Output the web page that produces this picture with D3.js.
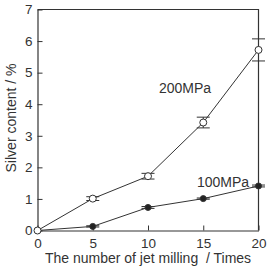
<!DOCTYPE html>
<html>
<head>
<meta charset="utf-8">
<script src="https://cdn.jsdelivr.net/npm/d3@7"></script>
<style>
  body { margin: 0; background: #fff; }
  svg { display: block; }
  text { font-family: "Liberation Sans", Arial, sans-serif; fill: #333; }
</style>
</head>
<body>
<script>
  // jet milling passes and measured silver content (%)
  const milling = [0, 5, 10, 15, 20];
  const silver200 = [0, 1.01, 1.72, 3.42, 5.72];
  const err200 = [0, 0.06, 0.09, 0.17, 0.35];
  const silver100 = [0, 0.13, 0.73, 1.01, 1.41];
  const err100 = [0, 0.02, 0.03, 0.02, 0.03];
  const xTicks = [0, 5, 10, 15, 20];
  const yTicks = [0, 1, 2, 3, 4, 5, 6, 7];

  let svg = d3.select("body").append("svg")
    .attr("width", 267)
    .attr("height", 267);

  let x = d3.scaleLinear().domain([0, 20]).range([37.5, 258.5]);
  let y = d3.scaleLinear().domain([0, 7]).range([230.5, 9.5]);

  // frame (top and right sides)
  svg.append("path")
    .attr("d", `M${x(0)},${y(7)}H${x(20)}V${y(0)}`)
    .attr("fill", "none")
    .attr("stroke", "#333")
    .attr("stroke-width", 1.2);

  // axes, ticks pointing inward
  let yAxis = d3.axisLeft(y).tickValues(yTicks).tickFormat(d3.format("d"))
    .tickSizeInner(-5).tickSizeOuter(0).tickPadding(5);
  let gy = svg.append("g").attr("transform", `translate(${x(0)},0)`).call(yAxis);

  let xAxis = d3.axisBottom(x).tickValues(xTicks).tickFormat(d3.format("d"))
    .tickSizeInner(-5).tickSizeOuter(0).tickPadding(8);
  let gx = svg.append("g").attr("transform", `translate(0,${y(0)})`).call(xAxis);

  [gx, gy].forEach(g => {
    g.select(".domain").attr("stroke", "#333").attr("stroke-width", 1.2);
    g.selectAll(".tick line").attr("stroke", "#333");
    g.selectAll(".tick text").style("font-size", "13.5px").attr("fill", "#333");
  });

  function series(vals, errs, filled) {
    let pts = milling.map((m, i) => ({ m: m, v: vals[i], e: errs[i] }));

    svg.append("path")
      .datum(pts)
      .attr("fill", "none")
      .attr("stroke", "#333")
      .attr("stroke-width", 1)
      .attr("d", d3.line().x(d => x(d.m)).y(d => y(d.v)));

    let eb = svg.append("g").attr("stroke", "#333").attr("stroke-width", 1);
    pts.filter(d => d.e > 0).forEach(d => {
      eb.append("line")
        .attr("x1", x(d.m)).attr("x2", x(d.m))
        .attr("y1", y(d.v - d.e)).attr("y2", y(d.v + d.e));
      [d.v - d.e, d.v + d.e].forEach(c => {
        eb.append("line")
          .attr("x1", x(d.m) - 6.5).attr("x2", x(d.m) + 6.5)
          .attr("y1", y(c)).attr("y2", y(c));
      });
    });

    svg.append("g").selectAll("circle")
      .data(pts)
      .enter()
      .append("circle")
        .attr("cx", d => x(d.m))
        .attr("cy", d => y(d.v))
        .attr("r", filled ? 3 : 3.5)
        .attr("fill", filled ? "#222" : "#fff")
        .attr("stroke", "#333")
        .attr("stroke-width", 1);
  }

  series(silver100, err100, true);
  series(silver200, err200, false);

  svg.append("text")
    .attr("x", 159).attr("y", 93)
    .style("font-size", "14px")
    .text("200MPa");

  svg.append("text")
    .attr("x", 197).attr("y", 187)
    .style("font-size", "14px")
    .text("100MPa");

  // axis titles
  svg.append("text")
    .attr("x", 148).attr("y", 263)
    .attr("text-anchor", "middle")
    .style("font-size", "14px")
    .style("white-space", "pre")
    .text("The number of jet milling  / Times");

  svg.append("text")
    .attr("transform", "translate(16,118)rotate(-90)")
    .attr("text-anchor", "middle")
    .style("font-size", "14px")
    .text("Silver content / %");
</script>
</body>
</html>
